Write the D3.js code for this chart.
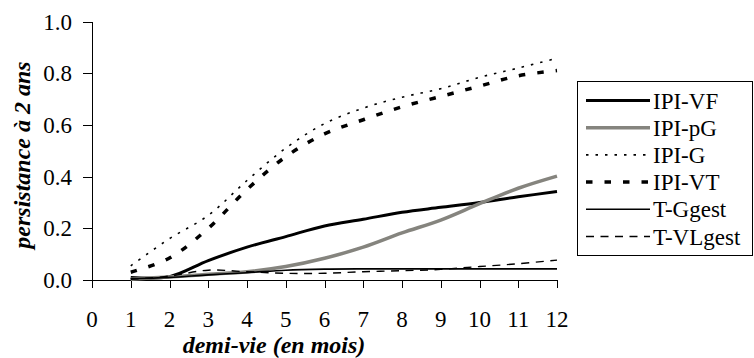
<!DOCTYPE html>
<html>
<head>
<meta charset="utf-8">
<script src="https://cdn.jsdelivr.net/npm/d3@7"></script>
</head>
<body style="margin:0">
<svg id="chart" width="754" height="358"></svg>
<script>
// months (demi-vie)
const months = [1, 2, 3, 4, 5, 6, 7, 8, 9, 10, 11, 12];
const xTicks = [0, 1, 2, 3, 4, 5, 6, 7, 8, 9, 10, 11, 12];
const yTicks = [0, 0.2, 0.4, 0.6, 0.8, 1.0];

const ipiVF = [0.010, 0.013, 0.075, 0.127, 0.168, 0.209, 0.235, 0.262, 0.281, 0.300, 0.322, 0.342];
const ipiPG = [0.003, 0.012, 0.022, 0.032, 0.052, 0.084, 0.127, 0.182, 0.232, 0.295, 0.355, 0.402];
const ipiG = [0.055, 0.160, 0.250, 0.385, 0.510, 0.605, 0.665, 0.707, 0.740, 0.784, 0.820, 0.858];
const ipiVT = [0.030, 0.085, 0.200, 0.350, 0.477, 0.565, 0.620, 0.670, 0.710, 0.750, 0.790, 0.810];
const tGgest = [0.005, 0.010, 0.020, 0.028, 0.038, 0.042, 0.043, 0.043, 0.043, 0.043, 0.043, 0.043];
const tVLgest = [0.003, 0.015, 0.038, 0.032, 0.026, 0.026, 0.032, 0.036, 0.041, 0.052, 0.063, 0.077];

const seriesNames = ['IPI-VF', 'IPI-pG', 'IPI-G', 'IPI-VT', 'T-Ggest', 'T-VLgest'];
const seriesValues = [ipiVF, ipiPG, ipiG, ipiVT, tGgest, tVLgest];
const seriesStyle = [
  { color: '#000', width: 3, dash: null },
  { color: '#85847e', width: 3.5, dash: null },
  { color: '#000', width: 1.6, dash: '2.5,7' },
  { color: '#000', width: 3.5, dash: '6.5,12' },
  { color: '#000', width: 1.6, dash: null },
  { color: '#000', width: 1.4, dash: '8,6.5' },
];

const FONT = "'Liberation Serif', 'Tinos', 'Nimbus Roman', 'FreeSerif', 'Times New Roman'";

const svg = d3.select('#chart');
const margin = { left: 92, top: 21.5, right: 197, bottom: 78 };
const width = 754, height = 358;

const x = d3.scaleLinear().domain([0, 12]).range([margin.left, width - margin.right]);
const y = d3.scaleLinear().domain([0, 1]).range([height - margin.bottom, margin.top]);

// axes: tick lines from d3.axis, labels as plain texts
svg.append('g')
  .attr('transform', 'translate(0,' + y(0) + ')')
  .call(d3.axisBottom(x).tickValues(xTicks).tickSize(8).tickSizeOuter(0).tickFormat(''))
  .call(g => g.selectAll('path, line').attr('stroke', '#000').attr('shape-rendering', 'crispEdges'));

svg.append('g')
  .attr('transform', 'translate(' + x(0) + ',0)')
  .call(d3.axisLeft(y).tickValues(yTicks).tickSize(9).tickSizeOuter(0).tickFormat(''))
  .call(g => g.selectAll('path, line').attr('stroke', '#000').attr('shape-rendering', 'crispEdges'));

xTicks.forEach(t => {
  svg.append('text')
    .attr('x', x(t)).attr('y', 327)
    .attr('text-anchor', 'middle')
    .style('font-family', FONT).style('font-size', '23px')
    .text(d3.format('d')(t));
});

yTicks.forEach(t => {
  svg.append('text')
    .attr('x', x(0) - 20).attr('y', y(t) + 8)
    .attr('text-anchor', 'end')
    .style('font-family', FONT).style('font-size', '23px')
    .text(d3.format('.1f')(t));
});

// lines
const line = d3.line()
  .x((d, i) => x(months[i]))
  .y(d => y(d))
  .curve(d3.curveCatmullRom.alpha(0.5));

seriesValues.forEach((vals, i) => {
  const st = seriesStyle[i];
  svg.append('path')
    .datum(vals)
    .attr('fill', 'none')
    .attr('stroke', st.color)
    .attr('stroke-width', st.width)
    .attr('stroke-dasharray', st.dash)
    .attr('d', line);
});

// axis titles
svg.append('text')
  .attr('x', 274)
  .attr('y', 353)
  .attr('text-anchor', 'middle')
  .style('font-family', FONT)
  .style('font-size', '24px')
  .style('font-weight', 'bold')
  .style('font-style', 'italic')
  .text('demi-vie (en mois)');

svg.append('text')
  .attr('transform', 'translate(30,155) rotate(-90)')
  .attr('text-anchor', 'middle')
  .style('font-family', FONT)
  .style('font-size', '24px')
  .style('font-weight', 'bold')
  .style('font-style', 'italic')
  .text('persistance à 2 ans');

// legend
const lx = 577, ly0 = 81;
svg.append('rect')
  .attr('x', lx + 0.5).attr('y', ly0 + 0.5)
  .attr('width', 175).attr('height', 174)
  .attr('fill', '#fff').attr('stroke', '#000').attr('stroke-width', 1);

seriesNames.forEach((name, i) => {
  const st = seriesStyle[i];
  const ly = ly0 + 19.5 + i * 27.2;
  svg.append('line')
    .attr('x1', lx + 9).attr('x2', lx + 73)
    .attr('y1', ly).attr('y2', ly)
    .attr('stroke', st.color)
    .attr('stroke-width', st.width)
    .attr('stroke-dasharray', st.dash);
  svg.append('text')
    .attr('x', lx + 76).attr('y', ly + 8)
    .style('font-family', FONT)
    .style('font-size', '23px')
    .text(name);
});
</script>
</body>
</html>
